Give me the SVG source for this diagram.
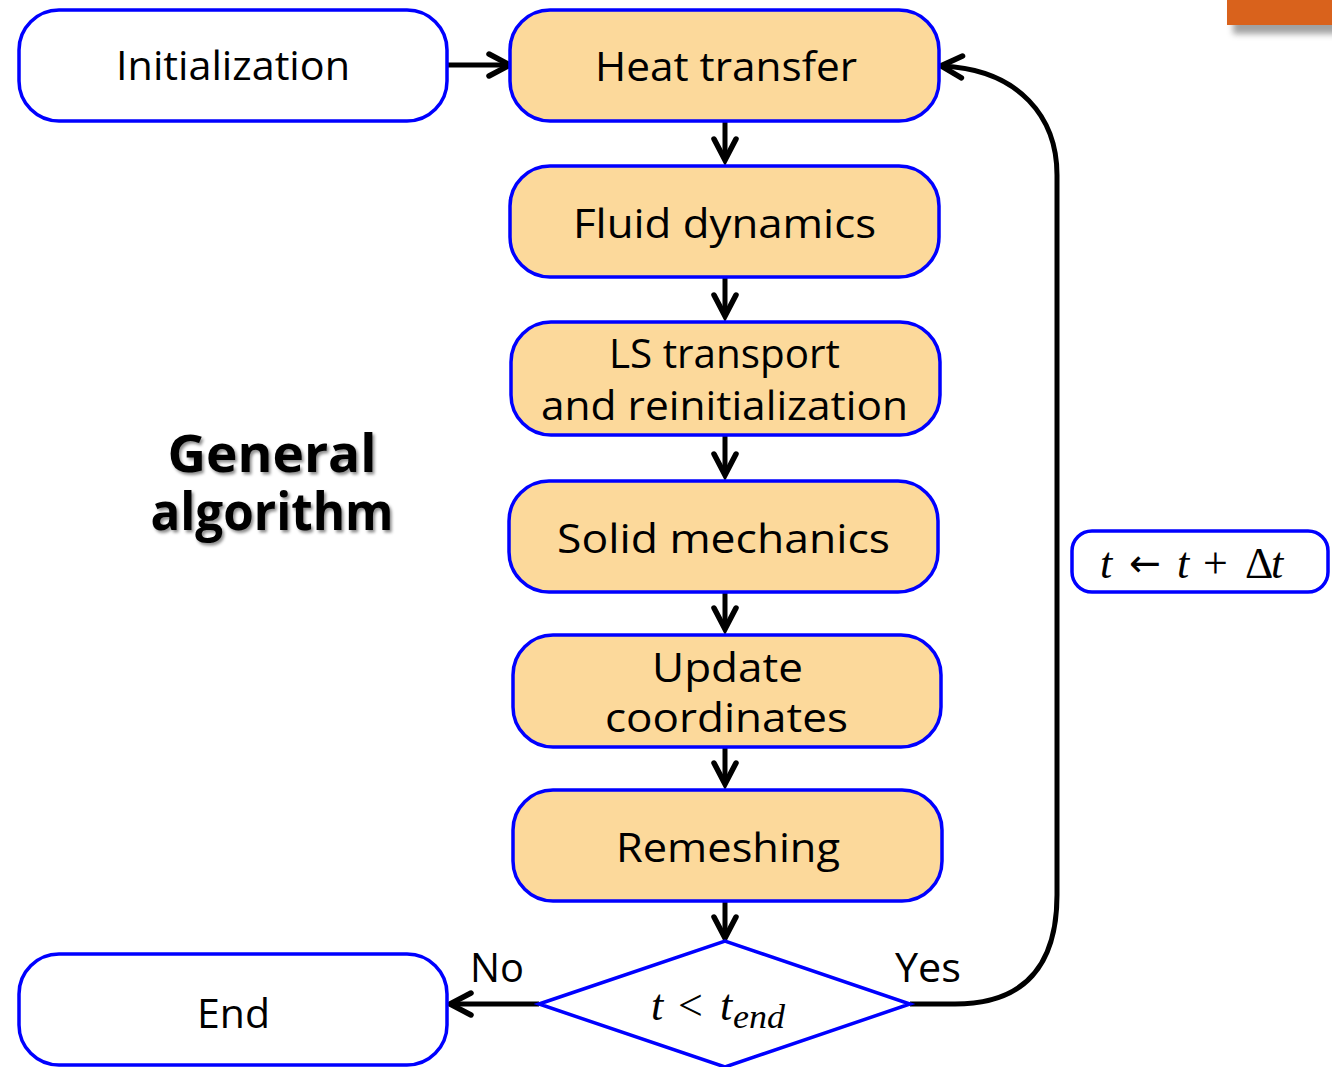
<svg xmlns="http://www.w3.org/2000/svg" width="1332" height="1067" viewBox="0 0 1332 1067">
  <defs>
    <style>
      .box { stroke: #0000FF; stroke-width: 3.5; }
      .plain { fill: #FFFFFF; }
      .step { fill: #FCD99B; }
      .lbl { font-family: "Open Sans", "DejaVu Sans", sans-serif; font-size: 40px; fill: #000; text-anchor: middle; }
      .title { font-family: "Open Sans", "DejaVu Sans", sans-serif; font-weight: bold; font-size: 52px; fill: #000; text-anchor: middle; }
      .math { font-family: "Liberation Serif", "DejaVu Serif", serif; font-size: 44px; fill: #000; }
      .it { font-style: italic; }
      .sym { font-family: "DejaVu Sans", sans-serif; font-size: 38px; }
      .wire { fill: none; stroke: #000; stroke-width: 5; }
    </style>
    <marker id="head" viewBox="0 0 24 24" markerWidth="24" markerHeight="24" refX="20" refY="12" orient="auto" markerUnits="userSpaceOnUse" overflow="visible">
      <path d="M1,1 L22,12 L1,23" fill="none" stroke="#000" stroke-width="5.5" stroke-linecap="round" stroke-linejoin="miter"/>
    </marker>
    <filter id="textShadow" x="-10%" y="-10%" width="130%" height="140%">
      <feDropShadow dx="2" dy="2.5" stdDeviation="1.5" flood-color="#000" flood-opacity="0.45"/>
    </filter>
    <filter id="tabShadow" x="-20%" y="-50%" width="140%" height="250%">
      <feGaussianBlur stdDeviation="3"/>
    </filter>
  </defs>

  <rect width="1332" height="1067" fill="#FFFFFF"/>

  <!-- corner tab -->
  <g id="tab">
    <rect x="1233" y="4" width="110" height="30" fill="#555" opacity="0.55" filter="url(#tabShadow)"/>
    <rect x="1227" y="-5" width="110" height="30" fill="#D9621C"/>
  </g>

  <!-- heading -->
  <g id="heading" filter="url(#textShadow)">
    <text class="title" x="272" y="472" textLength="209" lengthAdjust="spacingAndGlyphs">General</text>
    <text class="title" x="272" y="530" textLength="243" lengthAdjust="spacingAndGlyphs">algorithm</text>
  </g>

  <!-- connectors -->
  <g id="connectors">
    <path class="wire" d="M447,65 H508" marker-end="url(#head)"/>
    <path class="wire" d="M725,121 V158" marker-end="url(#head)"/>
    <path class="wire" d="M725,277 V314" marker-end="url(#head)"/>
    <path class="wire" d="M725,435 V473" marker-end="url(#head)"/>
    <path class="wire" d="M725,592 V627" marker-end="url(#head)"/>
    <path class="wire" d="M725,747 V782" marker-end="url(#head)"/>
    <path class="wire" d="M725,901 V936" marker-end="url(#head)"/>
    <path class="wire" d="M539,1004 H452" marker-end="url(#head)"/>
    <path class="wire" d="M910,1004 H955 C1025,1004 1057,965 1057,895 V175 C1057,118 1020,70 943,66" marker-end="url(#head)"/>
  </g>

  <g id="init">
    <rect class="box plain" x="19" y="10" width="428" height="111" rx="40"/>
    <text class="lbl" x="233" y="80" textLength="234" lengthAdjust="spacingAndGlyphs">Initialization</text>
  </g>

  <g id="heat">
    <rect class="box step" x="510" y="10" width="429" height="111" rx="40"/>
    <text class="lbl" x="726" y="81" textLength="262" lengthAdjust="spacingAndGlyphs">Heat transfer</text>
  </g>

  <g id="fluid">
    <rect class="box step" x="510" y="166" width="429" height="111" rx="40"/>
    <text class="lbl" x="724.5" y="238" textLength="303" lengthAdjust="spacingAndGlyphs">Fluid dynamics</text>
  </g>

  <g id="levelset">
    <rect class="box step" x="511" y="322" width="429" height="113" rx="40"/>
    <text class="lbl" x="724.5" y="368" textLength="231" lengthAdjust="spacingAndGlyphs">LS transport</text>
    <text class="lbl" x="724.5" y="420" textLength="367" lengthAdjust="spacingAndGlyphs">and reinitialization</text>
  </g>

  <g id="solid">
    <rect class="box step" x="509" y="481" width="429" height="111" rx="40"/>
    <text class="lbl" x="723.5" y="553" textLength="333" lengthAdjust="spacingAndGlyphs">Solid mechanics</text>
  </g>

  <g id="update">
    <rect class="box step" x="513" y="635" width="428" height="112" rx="40"/>
    <text class="lbl" x="727.5" y="682" textLength="151" lengthAdjust="spacingAndGlyphs">Update</text>
    <text class="lbl" x="726.5" y="732" textLength="243" lengthAdjust="spacingAndGlyphs">coordinates</text>
  </g>

  <g id="remesh">
    <rect class="box step" x="513" y="790" width="429" height="111" rx="40"/>
    <text class="lbl" x="728" y="862" textLength="224" lengthAdjust="spacingAndGlyphs">Remeshing</text>
  </g>

  <g id="test">
    <polygon class="box plain" points="539,1004 725,941 910,1004 725,1067"/>
    <text class="math" y="1020"><tspan class="it" x="651">t</tspan><tspan x="678">&lt;</tspan><tspan class="it" x="720">t</tspan><tspan class="it" x="733" dy="8" font-size="33" textLength="52" lengthAdjust="spacingAndGlyphs">end</tspan></text>
  </g>

  <g id="end">
    <rect class="box plain" x="19" y="954" width="428" height="111" rx="40"/>
    <text class="lbl" x="233.5" y="1028" textLength="73" lengthAdjust="spacingAndGlyphs">End</text>
  </g>

  <g id="step-time">
    <rect class="box plain" x="1072" y="531" width="256" height="61" rx="20"/>
    <text class="math" y="578"><tspan class="it" x="1100">t</tspan><tspan class="sym" x="1129" dy="-2">←</tspan><tspan class="it" x="1177" dy="2">t</tspan><tspan x="1203">+</tspan><tspan x="1245">Δ</tspan><tspan class="it" x="1271">t</tspan></text>
  </g>

  <g id="branch-labels">
    <text class="lbl" x="497" y="982" textLength="54" lengthAdjust="spacingAndGlyphs">No</text>
    <text class="lbl" x="928" y="982" textLength="66" lengthAdjust="spacingAndGlyphs">Yes</text>
  </g>
</svg>
